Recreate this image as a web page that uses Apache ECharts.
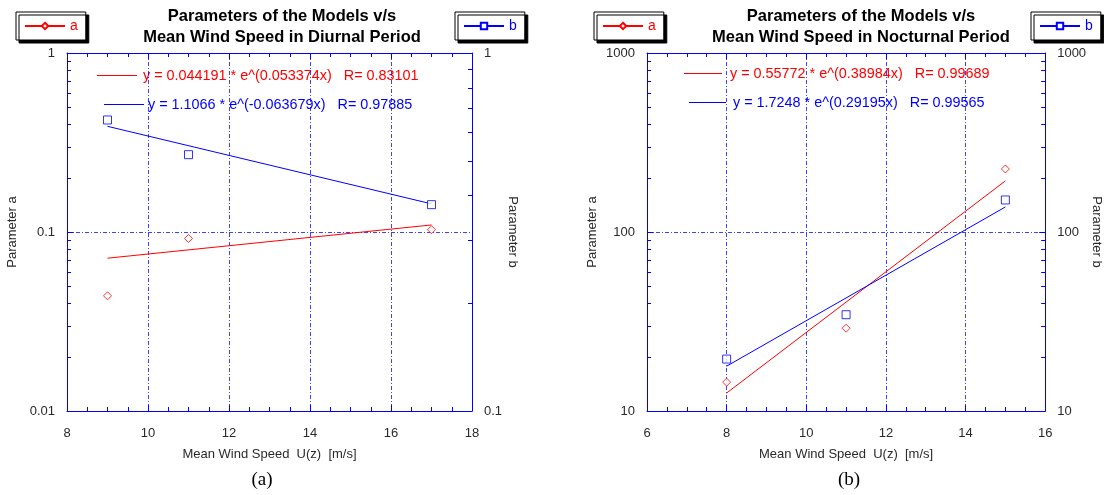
<!DOCTYPE html>
<html><head><meta charset="utf-8">
<script src="https://cdn.jsdelivr.net/npm/echarts@6/dist/echarts.min.js"></script>
<style>html,body{margin:0;padding:0;background:#fff}#c{width:1104px;height:495px}</style>
</head><body><div id="c"></div>
<script>
// ---- data ----
const diurnalSpeed = [9, 11, 17];
const diurnalA = [0.044, 0.092, 0.103];
const diurnalB = [0.65, 0.52, 0.377];
const diurnalFitSpeed = [9, 17];
const diurnalFitA = [0.0714, 0.1095];
const diurnalFitB = [0.624, 0.379];

const nocturnalSpeed = [8, 11, 15];
const nocturnalA = [14.5, 29, 225];
const nocturnalB = [19.5, 34.5, 151];
const nocturnalFitSpeed = [8, 15];
const nocturnalFitA = [12.6, 193];
const nocturnalFitB = [17.8, 138];

const diurnalMinorA = [0.02,0.03,0.04,0.05,0.06,0.07,0.08,0.09,0.2,0.3,0.4,0.5,0.6,0.7,0.8,0.9];
const diurnalMinorB = [0.2,0.3,0.4,0.5,0.6,0.7,0.8,0.9];
const nocturnalMinor = [20,30,40,50,60,70,80,90,200,300,400,500,600,700,800,900];

const diurnalEq = ['y = 0.044191 * e^(0.053374x)   R= 0.83101', 'y = 1.1066 * e^(-0.063679x)   R= 0.97885'];
const nocturnalEq = ['y = 0.55772 * e^(0.38984x)   R= 0.99689', 'y = 1.7248 * e^(0.29195x)   R= 0.99565'];
const titles = [['Parameters of the Models v/s', 'Mean Wind Speed in Diurnal Period'],
                ['Parameters of the Models v/s', 'Mean Wind Speed in Nocturnal Period']];
const xName = 'Mean Wind Speed  U(z)  [m/s]';

// ---- styling ----
const FONT = '"Liberation Sans", Arial, sans-serif';
const BLUE = '#0000ff', RED = '#ff0000', GREY = '#2a2a2a';
const gridLine = {show: true, lineStyle: {color: BLUE, width: 1, type: [4, 2, 1, 2], opacity: 0.75}};
const zip = (xs, ys) => xs.map((x, i) => [x, ys[i]]);

function xAx(grid, pos, min, max, main) {
  return {type: 'value', gridIndex: grid, position: pos, min: min, max: max, interval: 2,
    axisLine: {show: true, onZero: false, lineStyle: {color: BLUE, width: 1}},
    axisTick: {show: true, inside: true, length: 6, lineStyle: {color: BLUE}},
    minorTick: {show: true, splitNumber: 4, length: 4, lineStyle: {color: BLUE}},
    axisLabel: {show: main, color: GREY, fontSize: 13, margin: 16, fontFamily: FONT},
    splitLine: main ? gridLine : {show: false},
    name: main ? xName : '', nameLocation: 'middle', nameGap: 37,
    nameTextStyle: {color: GREY, fontSize: 13, fontFamily: FONT}};
}
function yAx(grid, pos, min, max, name, gap, split) {
  return {type: 'log', logBase: 10, gridIndex: grid, position: pos, min: min, max: max,
    axisLine: {show: true, onZero: false, lineStyle: {color: BLUE, width: 1}},
    axisTick: {show: true, inside: true, length: 6, lineStyle: {color: BLUE}},
    axisLabel: {color: GREY, fontSize: 13, margin: 12, fontFamily: FONT,
      formatter: v => String(+(+v).toPrecision(6))},
    splitLine: split ? gridLine : {show: false},
    name: name, nameLocation: 'middle', nameGap: gap, nameRotate: pos === 'left' ? 90 : -90,
    nameTextStyle: {color: GREY, fontSize: 13, fontFamily: FONT}};
}
function minorSeries(xi, yi, xEdge, values, dir) {
  return {type: 'custom', xAxisIndex: xi, yAxisIndex: yi, silent: true, clip: false, z: 5,
    data: values.map(v => [xEdge, v]),
    renderItem: (params, api) => {
      const p = api.coord([api.value(0), api.value(1)]);
      const y = Math.round(p[1]) + 0.5;
      return {type: 'line', shape: {x1: p[0], y1: y, x2: p[0] + dir * 4, y2: y},
        style: {stroke: BLUE, lineWidth: 1}};
    }};
}
function fitSeries(name, xi, yi, xs, ys, color, sym) {
  return {name: name, type: 'line', xAxisIndex: xi, yAxisIndex: yi, data: zip(xs, ys),
    symbol: sym, showSymbol: false, symbolSize: 7, silent: true, z: 3,
    lineStyle: {color: color, width: 1}, itemStyle: {color: color}};
}
function ptSeries(name, xi, yi, xs, ys, color, sym, size) {
  return {name: name, type: 'scatter', xAxisIndex: xi, yAxisIndex: yi, data: zip(xs, ys),
    symbol: sym, symbolSize: size, z: 4,
    itemStyle: {color: '#fff', borderColor: color, borderWidth: 1}};
}
function legendBox(name, left, color) {
  return {data: [name], left: left, top: 12, orient: 'horizontal',
    itemWidth: 40, itemHeight: 8, padding: [7, 8, 7, 8],
    backgroundColor: '#fff', borderColor: '#000', borderWidth: 1,
    shadowColor: '#000', shadowBlur: 0, shadowOffsetX: 3, shadowOffsetY: 3,
    textStyle: {color: color, fontSize: 14, fontFamily: FONT}, selectedMode: false};
}
function txt(x, y, s, opt) {
  return Object.assign({type: 'text', x: x, y: y, silent: true,
    style: Object.assign({text: s, fill: GREY, font: '13px ' + FONT, textAlign: 'left', textVerticalAlign: 'middle'}, opt || {})});
}
function seg(x1, x2, y, color) {
  return {type: 'line', silent: true, shape: {x1: x1, y1: y, x2: x2, y2: y}, style: {stroke: color, lineWidth: 1}};
}
const EQF = '14.4px ' + FONT, TF = 'bold 16.5px ' + FONT;

const chart = echarts.init(document.getElementById('c'));
chart.setOption({
  animation: false,
  backgroundColor: '#fff',
  grid: [{left: 67, top: 53, width: 405, height: 358}, {left: 647, top: 53, width: 401, height: 358}],
  xAxis: [xAx(0, 'bottom', 8, 18, true), xAx(0, 'top', 8, 18, false),
          xAx(1, 'bottom', 6, 16, true), xAx(1, 'top', 6, 16, false)],
  yAxis: [yAx(0, 'left', 0.01, 1, 'Parameter a', 48, true), yAx(0, 'right', 0.1, 1, 'Parameter b', 31, false),
          yAx(1, 'left', 10, 1000, 'Parameter a', 48, true), yAx(1, 'right', 10, 1000, 'Parameter b', 29, false)],
  legend: [legendBox('a', 16, RED), legendBox('b', 455, BLUE), legendBox('a', 594, RED), legendBox('b', 1031, BLUE)],
  series: [
    fitSeries('a', 0, 0, diurnalFitSpeed, diurnalFitA, RED, 'emptyDiamond'),
    fitSeries('b', 0, 1, diurnalFitSpeed, diurnalFitB, BLUE, 'emptyRect'),
    ptSeries('a points', 0, 0, diurnalSpeed, diurnalA, RED, 'diamond', 8),
    ptSeries('b points', 0, 1, diurnalSpeed, diurnalB, BLUE, 'rect', 8),
    fitSeries('a', 2, 2, nocturnalFitSpeed, nocturnalFitA, RED, 'emptyDiamond'),
    fitSeries('b', 2, 3, nocturnalFitSpeed, nocturnalFitB, BLUE, 'emptyRect'),
    ptSeries('a points', 2, 2, nocturnalSpeed, nocturnalA, RED, 'diamond', 8),
    ptSeries('b points', 2, 3, nocturnalSpeed, nocturnalB, BLUE, 'rect', 8),
    minorSeries(0, 0, 8, diurnalMinorA, 1),
    minorSeries(0, 1, 18, diurnalMinorB, -1),
    minorSeries(2, 2, 6, nocturnalMinor, 1),
    minorSeries(2, 3, 16, nocturnalMinor, -1)
  ],
  graphic: [
    txt(282, 16, titles[0][0], {fill: '#000', font: TF, textAlign: 'center'}),
    txt(282, 37, titles[0][1], {fill: '#000', font: TF, textAlign: 'center'}),
    txt(861, 16, titles[1][0], {fill: '#000', font: TF, textAlign: 'center'}),
    txt(861, 37, titles[1][1], {fill: '#000', font: TF, textAlign: 'center'}),
    seg(97, 137, 75.5, RED), txt(143, 76, diurnalEq[0], {fill: RED, font: EQF}),
    seg(104, 144, 104.5, BLUE), txt(148, 105, diurnalEq[1], {fill: BLUE, font: EQF}),
    seg(684, 722, 73.5, RED), txt(730, 74, nocturnalEq[0], {fill: RED, font: EQF}),
    seg(689, 726, 102.5, BLUE), txt(733, 103, nocturnalEq[1], {fill: BLUE, font: EQF}),
    txt(262, 480, '(a)', {fill: '#000', font: '19px "Liberation Serif", "Times New Roman", serif', textAlign: 'center'}),
    txt(849, 480, '(b)', {fill: '#000', font: '19px "Liberation Serif", "Times New Roman", serif', textAlign: 'center'})
  ]
});
</script></body></html>
